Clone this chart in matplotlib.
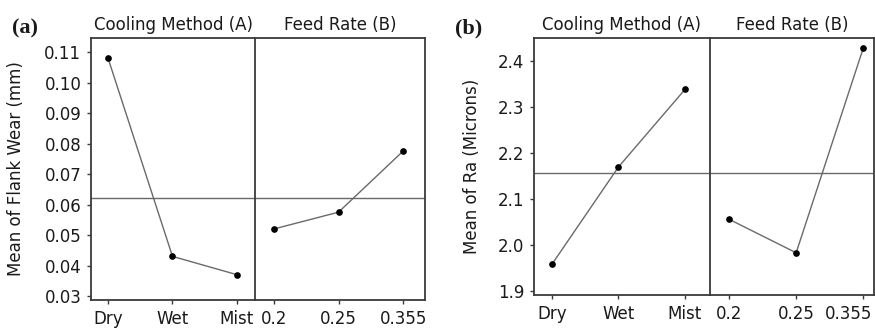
import matplotlib
matplotlib.use("Agg")
import matplotlib.pyplot as plt
from matplotlib.transforms import ScaledTranslation

# main effects data
cooling = ["Dry", "Wet", "Mist"]
feed = ["0.2", "0.25", "0.355"]

wear_cooling = [0.108, 0.043, 0.037]
wear_feed = [0.052, 0.0575, 0.0775]
wear_mean = 0.0622

ra_cooling = [1.958, 2.170, 2.339]
ra_feed = [2.056, 1.983, 2.429]
ra_mean = 2.157

wear_ticks = [0.03, 0.04, 0.05, 0.06, 0.07, 0.08, 0.09, 0.10, 0.11]
wear_ticklabels = ["0.03", "0.04", "0.05", "0.06", "0.07", "0.08", "0.09", "0.10", "0.11"]
ra_ticks = [1.9, 2.0, 2.1, 2.2, 2.3, 2.4]
ra_ticklabels = ["1.9", "2.0", "2.1", "2.2", "2.3", "2.4"]

W, H = 875, 328
fig = plt.figure(figsize=(W / 100, H / 100), dpi=100)
plt.rcParams["font.family"] = ["DejaVu Sans"]

SPINE = "#3a3a3a"
LINE = "#6a6a6a"
TXT = "#1a1a1a"
FS = 12


def box(x0, x1, y0, y1):
    return [x0 / W, (H - y1) / H, (x1 - x0) / W, (y1 - y0) / H]


def style(ax):
    for s in ax.spines.values():
        s.set_color(SPINE)
        s.set_linewidth(1.3)
    ax.tick_params(colors=SPINE, labelcolor=TXT, labelsize=FS, length=3,
                   width=1.0, direction="out")


def panel(x0, xd, x1, y0, y1, left_vals, right_vals, mean, ticks, ticklabels,
          ylim, xl_left, xl_right, ylabel, ylabelpad, title_letter, last_shift):
    axl = fig.add_axes(box(x0, xd, y0, y1))
    axr = fig.add_axes(box(xd, x1, y0, y1), sharey=axl)
    for ax, vals, cats, xl, ttl in [(axl, left_vals, cooling, xl_left, "Cooling Method (A)"),
                                    (axr, right_vals, feed, xl_right, "Feed Rate (B)")]:
        style(ax)
        xs = list(range(len(cats)))
        ax.plot(xs, vals, color=LINE, lw=1.0, zorder=2)
        ax.plot(xs, vals, "o", color="black", ms=3.8, zorder=3)
        ax.axhline(mean, color=LINE, lw=1.0, zorder=1)
        ax.set_xticks(xs)
        ax.set_xticklabels(cats)
        ax.set_xlim(*xl)
        ax.set_title(ttl, fontsize=FS, color=TXT, pad=6)
        ax.tick_params(axis="x", pad=4)
    axl.spines["right"].set_visible(False)
    axr.tick_params(axis="y", left=False, labelleft=False)
    axl.set_yticks(ticks)
    axl.set_yticklabels(ticklabels)
    axl.set_ylim(*ylim)
    axl.tick_params(axis="y", pad=4)
    axl.set_ylabel(ylabel, fontsize=FS, color=TXT, labelpad=ylabelpad)
    if last_shift:
        lab = axr.get_xticklabels()[-1]
        lab.set_ha("right")
        lab.set_transform(lab.get_transform() +
                          ScaledTranslation(last_shift / 100, 0, fig.dpi_scale_trans))
    fig.text((x0 - 79) / W, (H - 28) / H, title_letter, fontsize=16,
             fontweight="bold", family="Liberation Serif", color=TXT,
             va="center", ha="left")


panel(91, 255, 425, 38, 300, wear_cooling, wear_feed, wear_mean,
      wear_ticks, wear_ticklabels, (0.0287, 0.1146),
      (-0.264, 2.28), (-0.295, 2.34), "Mean of Flank Wear (mm)", 14, "(a)", 0)

panel(534, 710, 874, 38, 295, ra_cooling, ra_feed, ra_mean,
      ra_ticks, ra_ticklabels, (1.891, 2.451),
      (-0.27, 2.376), (-0.284, 2.16), "Mean of Ra (Microns)", 12, "(b)", 9)

fig.savefig("out.png", dpi=100, facecolor="white")
